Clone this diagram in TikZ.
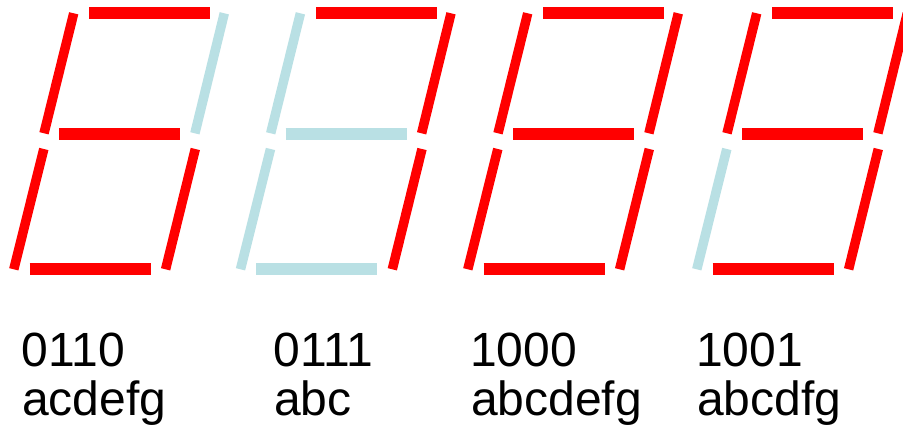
\documentclass[tikz,border=0pt]{standalone}
\usepackage{fontspec}
\setmainfont{Liberation Sans}
\definecolor{segon}{RGB}{255,0,0}
\definecolor{segoff}{RGB}{185,224,228}
\tikzset{
  hseg/.style={line width=12pt, line cap=butt},
  vseg/.style={line width=9.5pt, line cap=butt},
  lbl/.style={anchor=base west, inner sep=0pt, font=\fontsize{48}{56}\selectfont}
}
% #1 = x of left end of segment a; #2..#8 = colours of a b c d e f g
\newcommand\sevenseg[8]{%
  \draw[hseg,#2] (#1,12.7) -- (#1+121,12.7);
  \draw[vseg,#3] (#1+135,13.3) -- (#1+105.6,133.3);
  \draw[vseg,#4] (#1+106,149) -- (#1+76.3,269.3);
  \draw[hseg,#5] (#1-59.6,268.7) -- (#1+61.4,268.7);
  \draw[vseg,#6] (#1-45.5,149) -- (#1-75.5,269.3);
  \draw[vseg,#7] (#1-15.6,13.3) -- (#1-45.3,133.3);
  \draw[hseg,#8] (#1-30.3,134) -- (#1+90.7,134);
}
\begin{document}
\begin{tikzpicture}[x=1pt,y=-1pt]
\useasboundingbox (0,0) rectangle (903,433);
\clip (0,0) rectangle (903,433);
\fill[white] (0,0) rectangle (903,433);
% digit 6
\sevenseg{89.3}{segon}{segoff}{segon}{segon}{segon}{segon}{segon}
% digit 7
\sevenseg{316}{segon}{segon}{segon}{segoff}{segoff}{segoff}{segoff}
% digit 8
\sevenseg{543.3}{segon}{segon}{segon}{segon}{segon}{segon}{segon}
% digit 9
\sevenseg{772.3}{segon}{segon}{segon}{segon}{segoff}{segon}{segon}
\node[lbl] (c6) at (21.5,366) {0110};
\node[lbl] (s6) at (22,415) {acdefg};
\node[lbl] (c7) at (273.5,366) {0111};
\node[lbl] (s7) at (274,415) {abc};
\node[lbl] (c8) at (470,366) {1000};
\node[lbl] (s8) at (471,415) {abcdefg};
\node[lbl] (c9) at (696,366) {1001};
\node[lbl] (s9) at (697,415) {abcdfg};
\end{tikzpicture}
\end{document}
